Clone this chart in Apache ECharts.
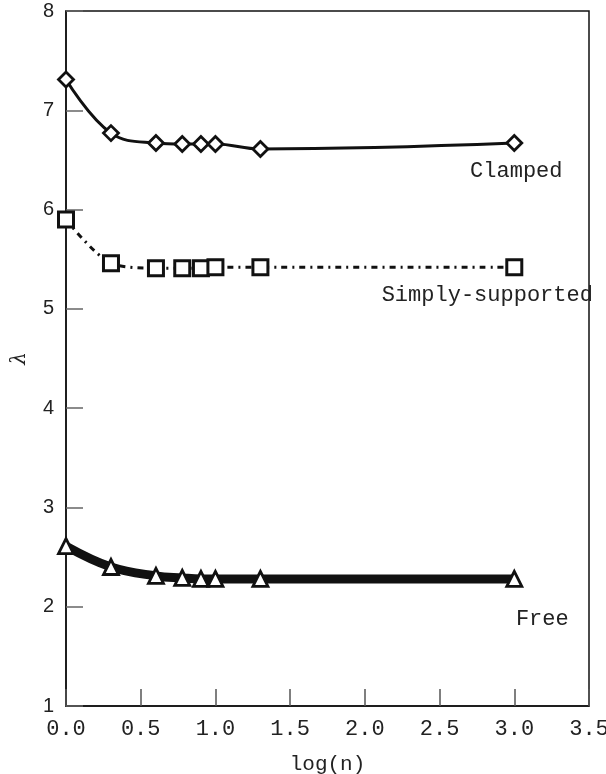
<!DOCTYPE html>
<html>
<head>
<meta charset="utf-8">
<script src="https://cdn.jsdelivr.net/npm/echarts@6/dist/echarts.min.js"></script>
<style>
  html, body { margin: 0; padding: 0; background: #fff; }
  #chart { width: 606px; height: 774px; }
</style>
</head>
<body>
<div id="chart"></div>
<script>
// log(n) for n = 1, 2, 4, 6, 8, 10, 20, 1000
var logN = [0, 0.301, 0.602, 0.778, 0.903, 1.0, 1.301, 3.0];

var clamped = [7.31, 6.77, 6.67, 6.66, 6.66, 6.66, 6.61, 6.67];
var simplySupported = [5.90, 5.46, 5.41, 5.41, 5.41, 5.42, 5.42, 5.42];
var free = [2.61, 2.40, 2.31, 2.29, 2.28, 2.28, 2.28, 2.28];

var xTicks = ['0.0', '0.5', '1.0', '1.5', '2.0', '2.5', '3.0', '3.5'];
var yTicks = [1, 2, 3, 4, 5, 6, 7, 8];

var mono = 'Liberation Mono';

function pairs(ys, name, offset) {
    return ys.map(function (y, i) {
        var item = { value: [logN[i], y] };
        if (i === ys.length - 1) {
            item.label = {
                show: true,
                formatter: name,
                position: 'inside',
                offset: offset,
                fontFamily: mono,
                fontSize: 22,
                color: '#222'
            };
        }
        return item;
    });
}

var myChart = echarts.init(document.getElementById('chart'));

myChart.setOption({
    animation: false,
    backgroundColor: '#fff',
    grid: {
        left: 66, right: 17, top: 11, bottom: 68,
        outerBoundsMode: 'none',
        containLabel: false,
        show: true,
        borderColor: '#111',
        borderWidth: 1.5,
        backgroundColor: 'transparent'
    },
    xAxis: {
        type: 'value',
        min: 0, max: 3.5, interval: 0.5,
        name: 'log(n)',
        nameLocation: 'middle',
        nameGap: 48,
        nameTextStyle: { fontFamily: mono, fontSize: 21, color: '#222' },
        axisLine: { show: true, lineStyle: { color: '#111', width: 1.5 } },
        axisTick: { show: true, inside: true, length: 17, lineStyle: { color: '#555', width: 1.5 } },
        axisLabel: {
            margin: 12,
            hideOverlap: false,
            fontFamily: mono, fontSize: 22, color: '#222',
            formatter: function (v) { return xTicks[Math.round(v * 2)]; }
        },
        splitLine: { show: false }
    },
    yAxis: {
        type: 'value',
        min: 1, max: 8, interval: 1,
        name: 'λ',
        nameLocation: 'middle',
        nameGap: 36,
        nameMoveOverlap: false,
        nameTextStyle: { fontFamily: 'DejaVu Serif', fontStyle: 'italic', fontSize: 20, color: '#222' },
        axisLine: { show: true, lineStyle: { color: '#111', width: 1.5 } },
        axisTick: { show: true, inside: true, length: 17, lineStyle: { color: '#666', width: 1.5 } },
        axisLabel: {
            margin: 12,
            fontFamily: 'Liberation Sans', fontSize: 20, color: '#222',
            formatter: function (v) { return yTicks.indexOf(v) >= 0 ? String(v) : ''; }
        },
        splitLine: { show: false }
    },
    series: [
        {
            name: 'Clamped',
            type: 'line',
            smooth: 0.4,
            data: pairs(clamped, 'Clamped', [2, 28]),
            symbol: 'diamond',
            symbolSize: 15,
            lineStyle: { color: '#111', width: 3 },
            itemStyle: { color: '#fff', borderColor: '#111', borderWidth: 2.8 },
            z: 3
        },
        {
            name: 'Simply-supported',
            type: 'line',
            smooth: 0.3,
            data: pairs(simplySupported, 'Simply-supported', [-27, 28]),
            symbol: 'rect',
            symbolSize: 15,
            lineStyle: { color: '#111', width: 3, type: [6, 5, 2, 5] },
            itemStyle: { color: '#fff', borderColor: '#111', borderWidth: 3 },
            z: 3
        },
        {
            name: 'Free',
            type: 'line',
            smooth: 0.4,
            data: pairs(free, 'Free', [28, 40]),
            symbol: 'triangle',
            symbolSize: 15,
            lineStyle: { color: '#111', width: 9 },
            itemStyle: { color: '#fff', borderColor: '#111', borderWidth: 2.8 },
            z: 3
        }
    ]
});
</script>
</body>
</html>
